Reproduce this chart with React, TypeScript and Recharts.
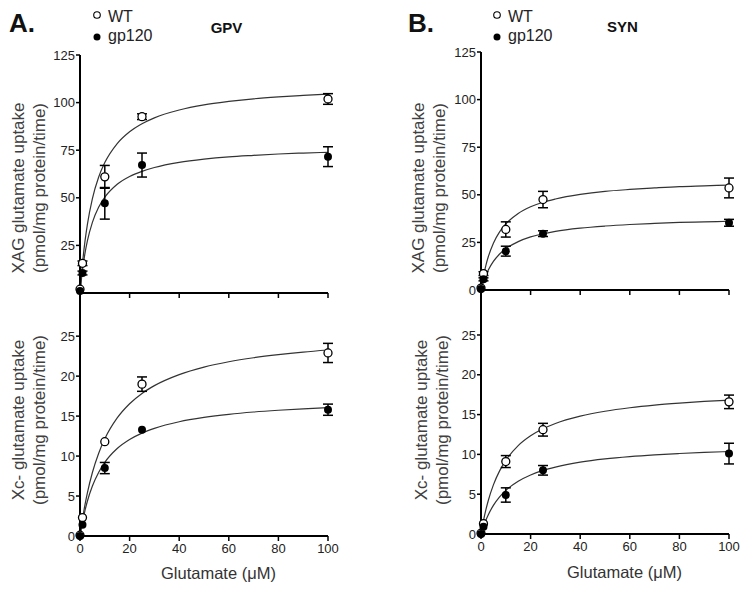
import React from 'react'
import { ComposedChart, Line, Scatter, ErrorBar, XAxis, YAxis } from 'recharts'

// glutamate concentrations (uM) of the measured points
const conc = [0, 1, 10, 25, 100]

// GPV, XAG uptake
const gpvXagWt = [2, 15.6, 61, 92.6, 101.9]
const gpvXagWtErr = [0, 1.2, 6, 1.5, 2.8]
const gpvXagGp = [1, 10.5, 47.1, 67.2, 71.6]
const gpvXagGpErr = [0, 1, 8.3, 6.3, 5.2]

// GPV, Xc- uptake
const gpvXcWt = [0.1, 2.3, 11.8, 19.0, 22.9]
const gpvXcWtErr = [0, 0, 0, 0.9, 1.2]
const gpvXcGp = [0, 1.4, 8.5, 13.3, 15.8]
const gpvXcGpErr = [0, 0, 0.7, 0, 0.7]

// SYN, XAG uptake
const synXagWt = [1, 8.6, 31.8, 47.5, 53.6]
const synXagWtErr = [0, 1, 4, 4.3, 5.2]
const synXagGp = [0.5, 5.6, 20.4, 29.6, 35.3]
const synXagGpErr = [0, 0.8, 2.6, 1.5, 1.8]

// SYN, Xc- uptake
const synXcWt = [0.1, 1.3, 9.1, 13.1, 16.6]
const synXcWtErr = [0, 0, 0.75, 0.8, 0.85]
const synXcGp = [0, 0.9, 4.9, 8.0, 10.1]
const synXcGpErr = [0, 0, 0.9, 0.6, 1.3]

// fitted curves
const curveX = [0, 0.5, 1, 2, 3, 5, 7.5, 10, 15, 20, 25, 30, 40, 50, 60, 70, 80, 90, 100]
const gpvXagWtFit = [0, 8.3, 15.4, 27.1, 36.2, 49.6, 60.8, 68.5, 78.5, 84.7, 88.9, 92.0, 96.1, 98.8, 100.6, 102.0, 103.0, 103.8, 104.5]
const gpvXagGpFit = [0, 6.5, 12.0, 20.8, 27.5, 37.1, 45.0, 50.3, 57.1, 61.2, 63.9, 65.9, 68.6, 70.3, 71.5, 72.3, 73.0, 73.5, 73.9]
const gpvXcWtFit = [0, 1.1, 2.11, 3.89, 5.43, 7.94, 10.33, 12.16, 14.77, 16.55, 17.84, 18.81, 20.19, 21.13, 21.8, 22.3, 22.69, 23.01, 23.27]
const gpvXcGpFit = [0, 0.92, 1.75, 3.18, 4.38, 6.25, 7.95, 9.21, 10.94, 12.07, 12.87, 13.46, 14.29, 14.83, 15.22, 15.51, 15.73, 15.91, 16.06]
const synXagWtFit = [0, 3.93, 7.38, 13.1, 17.7, 24.6, 30.5, 34.7, 40.2, 43.7, 46.1, 47.8, 50.2, 51.8, 52.8, 53.6, 54.3, 54.7, 55.1]
const synXagGpFit = [0, 2.29, 4.33, 7.8, 10.6, 15.0, 18.9, 21.7, 25.4, 27.9, 29.5, 30.8, 32.5, 33.6, 34.4, 35.0, 35.5, 35.8, 36.1]
const synXcWtFit = [0, 0.88, 1.68, 3.08, 4.27, 6.17, 7.93, 9.25, 11.1, 12.33, 13.21, 13.88, 14.8, 15.42, 15.86, 16.19, 16.44, 16.65, 16.82]
const synXcGpFit = [0, 0.5, 0.96, 1.77, 2.46, 3.59, 4.66, 5.48, 6.63, 7.42, 7.99, 8.41, 9.02, 9.43, 9.72, 9.94, 10.11, 10.25, 10.36]

const xTicks = [0, 20, 40, 60, 80, 100]
const xagTicks = [0, 25, 50, 75, 100, 125]
const xcTicks = [0, 5, 10, 15, 20, 25]

const FONT = '"Liberation Sans", Arial, Helvetica, sans-serif'

const points = (ys: number[], errs: number[]) =>
  conc.map((x, i) => ({ x, y: ys[i], err: errs[i] > 0 ? errs[i] : undefined }))
const fit = (ys: number[]) => curveX.map((x, i) => ({ x, y: ys[i] }))

const OpenDot = (p: any) => <circle cx={p.cx} cy={p.cy} r={4} fill="#fff" stroke="#000" strokeWidth={1.3} />
const FilledDot = (p: any) => <circle cx={p.cx} cy={p.cy} r={4} fill="#000" />

type PanelProps = {
  left: number; top: number; width: number; height: number
  plotLeft: number; plotRight: number; plotTop: number; plotBottom: number
  yMax: number; yTicks: number[]; xLabels: boolean
  wt: number[]; wtErr: number[]; gp: number[]; gpErr: number[]
  wtFit: number[]; gpFit: number[]
}

function Panel(p: PanelProps) {
  const axisLine = { stroke: '#000', strokeWidth: 2 }
  const tickLine = { stroke: '#000', strokeWidth: 1.5 }
  const tick = { fill: '#222', fontSize: 13, fontFamily: FONT }
  return (
    <div style={{ position: 'absolute', left: p.left, top: p.top }}>
      <ComposedChart
        width={p.width}
        height={p.height}
        margin={{ top: p.plotTop - p.top, right: p.left + p.width - p.plotRight, bottom: 0, left: 0 }}
      >
        <XAxis
          type="number"
          dataKey="x"
          domain={[0, 100]}
          ticks={xTicks}
          height={p.top + p.height - p.plotBottom}
          axisLine={axisLine}
          tickLine={tickLine}
          tickSize={5}
          tickMargin={3}
          tick={tick}
          tickFormatter={(v: number) => (p.xLabels ? String(v) : '')}
        />
        <YAxis
          type="number"
          dataKey="y"
          domain={[0, p.yMax]}
          ticks={p.yTicks}
          width={p.plotLeft - p.left}
          axisLine={axisLine}
          tickLine={tickLine}
          tickSize={4}
          tickMargin={1}
          tick={tick}
        />
        <Line data={fit(p.wtFit)} dataKey="y" type="monotone" stroke="#333" strokeWidth={1.2} dot={false} isAnimationActive={false} />
        <Line data={fit(p.gpFit)} dataKey="y" type="monotone" stroke="#333" strokeWidth={1.2} dot={false} isAnimationActive={false} />
        <Scatter data={points(p.wt, p.wtErr)} dataKey="y" shape={OpenDot} isAnimationActive={false}>
          <ErrorBar dataKey="err" direction="y" width={5} stroke="#000" strokeWidth={1.5} isAnimationActive={false} />
        </Scatter>
        <Scatter data={points(p.gp, p.gpErr)} dataKey="y" shape={FilledDot} isAnimationActive={false}>
          <ErrorBar dataKey="err" direction="y" width={5} stroke="#000" strokeWidth={1.5} isAnimationActive={false} />
        </Scatter>
      </ComposedChart>
    </div>
  )
}

function YTitle({ x1, x2, y, line1 }: { x1: number; x2: number; y: number; line1: string }) {
  return (
    <g fill="#404040" fontSize={17} fontFamily={FONT}>
      <text x={x1} y={y} textAnchor="middle" dominantBaseline="central" transform={`rotate(-90 ${x1} ${y})`}>{line1}</text>
      <text x={x2} y={y} textAnchor="middle" dominantBaseline="central" transform={`rotate(-90 ${x2} ${y})`}>(pmol/mg protein/time)</text>
    </g>
  )
}

function LegendBlock({ x }: { x: number }) {
  return (
    <g fontFamily={FONT} fontSize={16} fill="#222">
      <circle cx={x} cy={15} r={3.3} fill="#fff" stroke="#000" strokeWidth={1.1} />
      <text x={x + 11} y={21.5}>WT</text>
      <circle cx={x} cy={37} r={3.5} fill="#000" />
      <text x={x + 11} y={41}>gp120</text>
    </g>
  )
}

export default function App() {
  return (
    <div style={{ position: 'absolute', left: 0, top: 0, width: 751, height: 593, background: '#fff' }}>
      <Panel left={0} top={0} width={345} height={300} plotLeft={80} plotRight={328} plotTop={55} plotBottom={293}
        yMax={125} yTicks={xagTicks} xLabels={false}
        wt={gpvXagWt} wtErr={gpvXagWtErr} gp={gpvXagGp} gpErr={gpvXagGpErr} wtFit={gpvXagWtFit} gpFit={gpvXagGpFit} />
      <Panel left={0} top={280} width={345} height={313} plotLeft={80} plotRight={328} plotTop={293} plotBottom={536}
        yMax={30.4} yTicks={xcTicks} xLabels={true}
        wt={gpvXcWt} wtErr={gpvXcWtErr} gp={gpvXcGp} gpErr={gpvXcGpErr} wtFit={gpvXcWtFit} gpFit={gpvXcGpFit} />
      <Panel left={400} top={0} width={345} height={300} plotLeft={481} plotRight={729} plotTop={52} plotBottom={290}
        yMax={125} yTicks={xagTicks} xLabels={false}
        wt={synXagWt} wtErr={synXagWtErr} gp={synXagGp} gpErr={synXagGpErr} wtFit={synXagWtFit} gpFit={synXagGpFit} />
      <Panel left={400} top={280} width={345} height={313} plotLeft={481} plotRight={729} plotTop={290} plotBottom={534}
        yMax={30.65} yTicks={xcTicks} xLabels={true}
        wt={synXcWt} wtErr={synXcWtErr} gp={synXcGp} gpErr={synXcGpErr} wtFit={synXcWtFit} gpFit={synXcGpFit} />

      <svg width={751} height={593} style={{ position: 'absolute', left: 0, top: 0, pointerEvents: 'none' }}>
        <g fontFamily={FONT} fontWeight="bold" fill="#111">
          <text x={9} y={32} fontSize={26}>A.</text>
          <text x={408} y={32} fontSize={26}>B.</text>
          <text x={226.5} y={32.5} fontSize={15} textAnchor="middle">GPV</text>
          <text x={622.5} y={32} fontSize={15} textAnchor="middle">SYN</text>
        </g>
        <LegendBlock x={97} />
        <LegendBlock x={497} />
        <YTitle x1={18} x2={39} y={188} line1="XAG glutamate uptake" />
        <YTitle x1={18} x2={39} y={420} line1="Xc- glutamate uptake" />
        <YTitle x1={418} x2={439} y={188} line1="XAG glutamate uptake" />
        <YTitle x1={421} x2={442} y={420} line1="Xc- glutamate uptake" />
        <g fontFamily={FONT} fontSize={16.5} fill="#333" textAnchor="middle">
          <text x={218.5} y={579}>Glutamate (μM)</text>
          <text x={624.5} y={578}>Glutamate (μM)</text>
        </g>
      </svg>
    </div>
  )
}
